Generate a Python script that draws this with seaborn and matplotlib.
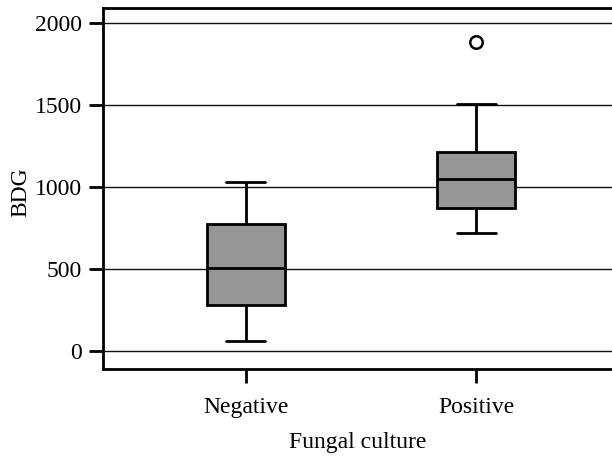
import matplotlib
matplotlib.use("Agg")
import matplotlib.pyplot as plt
import pandas as pd
import seaborn as sns

# values (BDG by fungal culture result)
groups = ["Negative", "Positive"]
negative_bdg = [60, 281, 505, 775, 1035]
positive_bdg = [720, 800, 876, 960, 1050, 1150, 1212, 1505, 1885]
y_ticks = [0, 500, 1000, 1500, 2000]

df = pd.DataFrame({
    "Fungal culture": [groups[0]] * len(negative_bdg) + [groups[1]] * len(positive_bdg),
    "BDG": negative_bdg + positive_bdg,
})

sns.set_theme(style="ticks")
plt.rcParams["font.family"] = ["Liberation Serif", "DejaVu Serif"]
plt.rcParams["font.size"] = 17

fig = plt.figure(figsize=(6.12, 4.57), dpi=100)
ax = fig.add_axes([0.168, 0.1926, 0.832, 0.7899])

ax.set_axisbelow(True)
ax.yaxis.grid(True, color="#111111", linewidth=1.0)

sns.boxplot(
    data=df, x="Fungal culture", y="BDG", order=groups, ax=ax,
    color="#969696", saturation=1, linecolor="black", linewidth=2.0,
    width=0.34, fliersize=9,
    flierprops=dict(marker="o", markerfacecolor="none",
                    markeredgecolor="black", markeredgewidth=1.8),
)

ax.set_xlim(-0.62, 1.589)
ax.set_ylim(-108, 2093)
ax.set_yticks(y_ticks)

for side in ["left", "bottom", "top"]:
    ax.spines[side].set_linewidth(2.0)
    ax.spines[side].set_color("black")
ax.spines["right"].set_visible(False)

ax.tick_params(axis="both", length=10, width=2.0, color="black",
               labelsize=17, labelcolor="black")
ax.tick_params(axis="y", pad=5)
ax.tick_params(axis="x", pad=10)

ax.set_xlabel("Fungal culture", fontsize=17, color="black", labelpad=10)
ax.set_ylabel("BDG", fontsize=17, color="black")
ax.yaxis.set_label_coords(-0.141, 0.49)

fig.savefig("out.png", dpi=100)
